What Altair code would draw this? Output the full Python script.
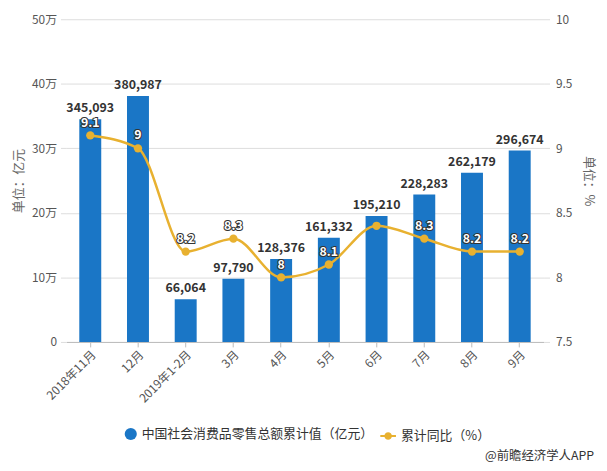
import altair as alt
import pandas as pd

months = ["2018年11月", "12月", "2019年1-2月", "3月", "4月", "5月", "6月", "7月", "8月", "9月"]
values = [345093, 380987, 66064, 97790, 128376, 161332, 195210, 228283, 262179, 296674]
growth = [9.1, 9.0, 8.2, 8.3, 8.0, 8.1, 8.4, 8.3, 8.2, 8.2]
growth_labels = ["9.1", "9", "8.2", "8.3", "8", "8.1", "", "8.3", "8.2", "8.2"]

bar_name = "中国社会消费品零售总额累计值（亿元）"
line_name = "累计同比（%）"

BLUE = "#1A76C6"
GOLD = "#E8B130"
FONT = "Noto Sans CJK SC"

df = pd.DataFrame({
    "month": months,
    "value": values,
    "growth": growth,
    "glabel": growth_labels,
    "s1": bar_name,
    "s2": line_name,
})

W, H = 482, 326

x = alt.X("month:N", sort=months, title=None,
          scale=alt.Scale(paddingInner=0.54, paddingOuter=0.27),
          axis=alt.Axis(labelAngle=-45, labelAlign="right", labelBaseline="top",
                        labelFontSize=12, labelColor="#555", labelFont=FONT,
                        domainColor="#bbb", tickColor="#bbb", tickSize=5, labelPadding=2))

base = alt.Chart(df)

bars = base.mark_bar().encode(
    x=x,
    y=alt.Y("value:Q", scale=alt.Scale(domain=[0, 500000], nice=False, zero=False), title="单位：亿元",
            axis=alt.Axis(values=[0, 100000, 200000, 300000, 400000, 500000],
                          labelExpr="datum.value == 0 ? '0' : (datum.value / 10000) + '万'",
                          domain=False, tickColor="#ddd", tickSize=6, gridColor="#ddd",
                          labelFontSize=12, labelColor="#555", labelFont=FONT,
                          titleFont=FONT, titleFontSize=13, titleFontWeight="normal",
                          titleColor="#666", titlePadding=6, labelPadding=4)),
    color=alt.Color("s1:N", scale=alt.Scale(domain=[bar_name], range=[BLUE]),
                    legend=alt.Legend(orient="none", legendX=58, legendY=412, title=None,
                                      symbolType="circle", symbolSize=150, labelLimit=0,
                                      labelFontSize=13, labelColor="#333", labelFont=FONT,
                                      symbolOpacity=1)),
)

bar_text = base.mark_text(dy=-11, fontSize=12.5, fontWeight="bold", color="#333", font=FONT).encode(
    x=alt.X("month:N", sort=months),
    y=alt.Y("value:Q"),
    text=alt.Text("value:Q", format=",d"),
)

left = alt.layer(bars, bar_text)

yr = alt.Y("growth:Q", scale=alt.Scale(domain=[7.5, 10], nice=False, zero=False, padding=0), title="单位：%",
           axis=alt.Axis(orient="right", values=[7.5, 8, 8.5, 9, 9.5, 10], labelExpr="datum.value + ''",
                         grid=False, domain=False, tickColor="#ddd", tickSize=6,
                         labelFontSize=12, labelColor="#555", labelFont=FONT,
                         titleFont=FONT, titleFontSize=13, titleFontWeight="normal",
                         titleColor="#666", titlePadding=10, labelPadding=6))

line = base.mark_line(interpolate="monotone", strokeWidth=2.5, color=GOLD).encode(
    x=alt.X("month:N", sort=months),
    y=yr,
)

points = base.mark_circle(size=70, opacity=1).encode(
    x=alt.X("month:N", sort=months),
    y=alt.Y("growth:Q"),
    color=alt.Color("s2:N", scale=alt.Scale(domain=[line_name], range=[GOLD]),
                    legend=alt.Legend(orient="none", legendX=316, legendY=412, title=None,
                                      symbolType="M-1,0L-0.35,0M0.35,0L1,0M0.35,0A0.35,0.35,0,1,1,-0.35,0A0.35,0.35,0,1,1,0.35,0Z",
                                      symbolSize=250, symbolStrokeWidth=2, labelLimit=0,
                                      symbolStrokeColor=GOLD, symbolFillColor=GOLD,
                                      labelFontSize=13, labelColor="#333", labelFont=FONT,
                                      symbolOpacity=1)),
)

lab_outline = base.mark_text(dy=-13, fontSize=12.5, fontWeight="bold", color="#333",
                             stroke="#333", strokeWidth=2, font=FONT).encode(
    x=alt.X("month:N", sort=months),
    y=alt.Y("growth:Q"),
    text="glabel:N",
)
lab_fill = base.mark_text(dy=-13, fontSize=12.5, fontWeight="bold", color="white", font=FONT).encode(
    x=alt.X("month:N", sort=months),
    y=alt.Y("growth:Q"),
    text="glabel:N",
)

right = alt.layer(line, points, lab_outline, lab_fill)

footer = alt.Chart(pd.DataFrame({"t": ["@前瞻经济学人APP"]})).mark_text(
    align="right", baseline="middle", fontSize=12.5, color="#333", font=FONT
).encode(x=alt.value(W + 51), y=alt.value(H + 115), text="t:N")

chart = alt.layer(left, right, footer).resolve_scale(
    y="independent", color="independent"
).properties(
    width=W, height=H,
    autosize=alt.AutoSizeParams(type="none"),
    padding={"left": 59, "top": 9, "right": 56, "bottom": 127},
).configure_view(stroke=None).configure_axis(gridColor="#ddd")

chart.save("out.html", embed_options={"renderer": "svg", "actions": False})
